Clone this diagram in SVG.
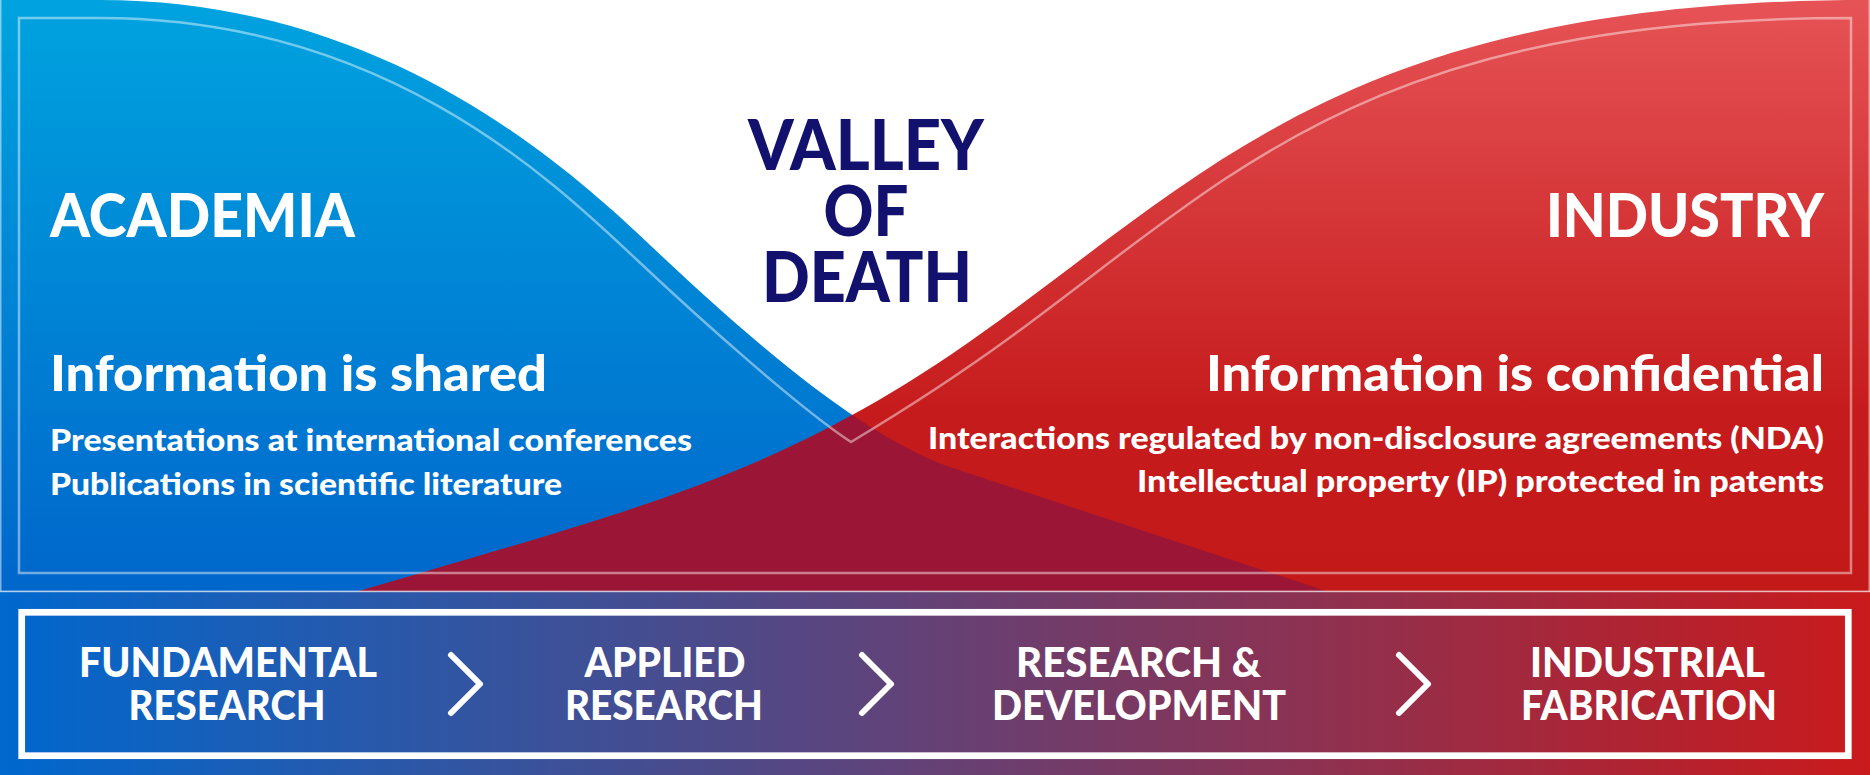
<svg xmlns="http://www.w3.org/2000/svg" width="1870" height="775" viewBox="0 0 1870 775">
  <style>
    .t { font-family: Lato, "Open Sans", "Liberation Sans", sans-serif; font-weight: 900; fill: #ffffff; }
    .big { font-size: 61px; }
    .sub { font-size: 49px; }
    .small { font-size: 31px; }
    .valley { font-family: Lato, "Open Sans", "Liberation Sans", sans-serif; font-weight: 900; font-size: 70px; fill: #12126E; text-anchor: middle; }
    .stage { font-size: 41px; text-anchor: middle; }
    .chev { fill: none; stroke: #ffffff; stroke-width: 6; stroke-linecap: round; stroke-linejoin: round; }
    .outline { fill: none; stroke: #ffffff; stroke-opacity: 0.45; stroke-width: 2.5; }
  </style>
  <defs>
    <linearGradient id="gBlue" gradientUnits="userSpaceOnUse" x1="0" y1="0" x2="0" y2="591">
      <stop offset="0" stop-color="#00A3DF"/>
      <stop offset="1" stop-color="#0066CB"/>
    </linearGradient>
    <linearGradient id="gRed" gradientUnits="userSpaceOnUse" x1="0" y1="0" x2="0" y2="591">
      <stop offset="0" stop-color="#E65356"/>
      <stop offset="0.7" stop-color="#C61B1C"/>
      <stop offset="1" stop-color="#C41919"/>
    </linearGradient>
    <linearGradient id="gBand" gradientUnits="userSpaceOnUse" x1="0" y1="0" x2="1870" y2="0">
      <stop offset="0" stop-color="#0068CE"/>
      <stop offset="1" stop-color="#C91A1C"/>
    </linearGradient>
    <clipPath id="clipBlue">
      <path d="M0,0 H100 C380,0 560,160 650,245 C750,339.4 860,435.5 950,467 L1420,622 L0,622 Z"/>
    </clipPath>
  </defs>

  <rect x="0" y="0" width="1870" height="775" fill="#ffffff"/>

  <g id="academia-area">
    <path d="M0,0 H100 C380,0 560,160 650,245 C750,339.4 860,435.5 950,467 L1420,622 L0,622 Z" fill="url(#gBlue)"/>
  </g>
  <g id="industry-area">
    <path d="M313,605 C643,506 780,480.6 1000,320 C1220,159.4 1370,0 1870,0 V622 H300 Z" fill="url(#gRed)"/>
  </g>
  <g id="overlap-area">
    <path d="M313,605 C643,506 780,480.6 1000,320 C1220,159.4 1370,0 1870,0 V622 H300 Z" fill="#9B1636" clip-path="url(#clipBlue)"/>
  </g>
  <path class="outline" d="M19,573 V18 H100 C380,18 546,174 636,259 C706,325 801,409 851,442 C901,412 962,372.5 1012,336 C1232,175 1370,18 1851,18 V573 Z"/>
  <rect x="0.75" y="-2" width="1868.5" height="593.5" fill="none" stroke="#ffffff" stroke-opacity="0.5" stroke-width="1.5"/>

  <g id="academia">
    <text class="t big" x="50" y="237" textLength="305" lengthAdjust="spacingAndGlyphs">ACADEMIA</text>
    <text class="t sub" x="50" y="391" textLength="497" lengthAdjust="spacingAndGlyphs">Information is shared</text>
    <text class="t small" x="50" y="451" textLength="642" lengthAdjust="spacingAndGlyphs">Presentations at international conferences</text>
    <text class="t small" x="50" y="495" textLength="512" lengthAdjust="spacingAndGlyphs">Publications in scientific literature</text>
  </g>

  <g id="valley-of-death">
    <text class="valley" x="866" y="170" textLength="236" lengthAdjust="spacingAndGlyphs">VALLEY</text>
    <text class="valley" x="866" y="236" textLength="85" lengthAdjust="spacingAndGlyphs">OF</text>
    <text class="valley" x="867" y="302" textLength="210" lengthAdjust="spacingAndGlyphs">DEATH</text>
  </g>

  <g id="industry">
    <text class="t big" x="1824" y="237" text-anchor="end" textLength="278" lengthAdjust="spacingAndGlyphs">INDUSTRY</text>
    <text class="t sub" x="1824" y="391" text-anchor="end" textLength="618" lengthAdjust="spacingAndGlyphs">Information is confidential</text>
    <text class="t small" x="1824" y="449" text-anchor="end" textLength="896" lengthAdjust="spacingAndGlyphs">Interactions regulated by non-disclosure agreements (NDA)</text>
    <text class="t small" x="1824" y="492" text-anchor="end" textLength="687" lengthAdjust="spacingAndGlyphs">Intellectual property (IP) protected in patents</text>
  </g>

  <g id="pipeline-band">
    <rect x="0" y="591.5" width="1870" height="183.5" fill="url(#gBand)"/>
    <line x1="0" y1="591.5" x2="1870" y2="591.5" stroke="#ffffff" stroke-opacity="0.6" stroke-width="1.5"/>
    <rect x="21.7" y="612.3" width="1826.6" height="143.4" fill="none" stroke="#ffffff" stroke-width="6.7"/>
  </g>

  <g id="stage-fundamental-research">
    <text class="t stage" x="228" y="677" textLength="298" lengthAdjust="spacingAndGlyphs">FUNDAMENTAL</text>
    <text class="t stage" x="227" y="720" textLength="197" lengthAdjust="spacingAndGlyphs">RESEARCH</text>
  </g>
  <g id="stage-applied-research">
    <text class="t stage" x="665" y="677" textLength="161" lengthAdjust="spacingAndGlyphs">APPLIED</text>
    <text class="t stage" x="664" y="720" textLength="198" lengthAdjust="spacingAndGlyphs">RESEARCH</text>
  </g>
  <g id="stage-research-development">
    <text class="t stage" x="1138.5" y="677" textLength="245" lengthAdjust="spacingAndGlyphs">RESEARCH &amp;</text>
    <text class="t stage" x="1139" y="720" textLength="294" lengthAdjust="spacingAndGlyphs">DEVELOPMENT</text>
  </g>
  <g id="stage-industrial-fabrication">
    <text class="t stage" x="1647.5" y="677" textLength="235" lengthAdjust="spacingAndGlyphs">INDUSTRIAL</text>
    <text class="t stage" x="1649" y="720" textLength="256" lengthAdjust="spacingAndGlyphs">FABRICATION</text>
  </g>

  <g id="connectors">
    <polyline class="chev" points="451,655 480,684 451,713"/>
    <polyline class="chev" points="862,655 891,684 862,713"/>
    <polyline class="chev" points="1399,655 1428,684 1399,713"/>
  </g>
</svg>
